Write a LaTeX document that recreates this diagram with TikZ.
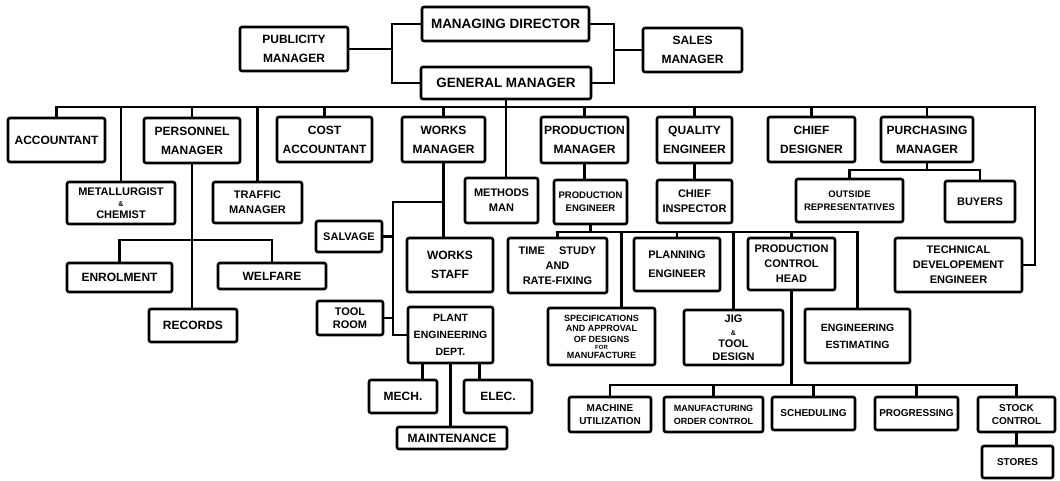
\documentclass[tikz,border=0pt]{standalone}
\usepackage{fontspec}
\setmainfont{Liberation Sans}
\usetikzlibrary{positioning,calc}
\newcommand{\orgtop}{\fontsize{13.5}{16}\selectfont}
\newcommand{\orghead}{\fontsize{12}{19}\selectfont}
\newcommand{\orgmid}{\fontsize{11}{15}\selectfont}
\newcommand{\orgsmall}{\fontsize{9.5}{13}\selectfont}
\newcommand{\orgamp}{{\fontsize{7}{7}\selectfont\&}}
\tikzstyle{unit} = [rectangle, rounded corners=2pt, draw=black, line width=2.6pt, align=center, inner sep=1pt, font=\bfseries\orgmid]
\tikzstyle{board} = [unit, font=\bfseries\orgtop]
\tikzstyle{head} = [unit, font=\bfseries\orghead]
\tikzstyle{minor} = [unit, font=\bfseries\orgsmall]
\tikzstyle{link} = [line width=2.3pt]

\begin{document}
\begin{tikzpicture}[x=1pt, y=-1pt]
        \useasboundingbox (0,0) rectangle (1060,480);
        % board level
        \node (managing-director) [board, minimum width=167, minimum height=34] at (505.5,24) {MANAGING DIRECTOR};
        \node (general-manager) [board, minimum width=170, minimum height=32] at (506,83) {GENERAL MANAGER};
        \node (publicity-manager) [head, minimum width=108, minimum height=44] at (294,49) {PUBLICITY\\MANAGER};
        \node (sales-manager) [head, minimum width=99, minimum height=44] at (692.5,50) {SALES\\MANAGER};
        % heads under the general manager
        \node (accountant) [head, minimum width=97, minimum height=44] at (56.5,140) {ACCOUNTANT};
        \node (personnel-manager) [head, minimum width=96, minimum height=45] at (192,140.5) {PERSONNEL\\MANAGER};
        \node (cost-accountant) [head, minimum width=95, minimum height=45] at (324.5,139.5) {COST\\ACCOUNTANT};
        \node (works-manager) [head, minimum width=83, minimum height=45] at (443.5,139.5) {WORKS\\MANAGER};
        \node (production-manager) [head, minimum width=87, minimum height=46] at (584.5,140) {PRODUCTION\\MANAGER};
        \node (quality-engineer) [head, minimum width=75, minimum height=46] at (694.5,140) {QUALITY\\ENGINEER};
        \node (chief-designer) [head, minimum width=87, minimum height=45] at (811.5,139.5) {CHIEF\\DESIGNER};
        \node (purchasing-manager) [head, minimum width=92, minimum height=45] at (927,139.5) {PURCHASING\\MANAGER};
        \node (metallurgist) [unit, minimum width=108, minimum height=42, font=\bfseries\fontsize{11}{11.5}\selectfont] at (121,203) {METALLURGIST\\\orgamp\\CHEMIST};
        \node (traffic-manager) [unit, minimum width=89, minimum height=41] at (257.5,202.5) {TRAFFIC\\MANAGER};
        \node (methods-man) [unit, minimum width=73, minimum height=45] at (501.5,200.5) {METHODS\\MAN};
        \node (production-engineer) [minor, minimum width=73, minimum height=44] at (590.5,202) {PRODUCTION\\ENGINEER};
        \node (chief-inspector) [unit, minimum width=75, minimum height=43] at (694.5,201.5) {CHIEF\\INSPECTOR};
        \node (outside-representatives) [minor, minimum width=107, minimum height=43] at (849.5,200.5) {OUTSIDE\\REPRESENTATIVES};
        \node (buyers) [unit, minimum width=70, minimum height=41] at (980,201.5) {BUYERS};
        \node (technical-development) [unit, minimum width=127, minimum height=54] at (958.5,265) {TECHNICAL\\DEVELOPEMENT\\ENGINEER};
        % personnel
        \node (enrolment) [head, minimum width=105, minimum height=29] at (119.5,277.5) {ENROLMENT};
        \node (welfare) [head, minimum width=108, minimum height=26] at (272,276) {WELFARE};
        \node (records) [head, minimum width=88, minimum height=33] at (193,325.5) {RECORDS};
        % works
        \node (salvage) [unit, minimum width=66, minimum height=31] at (349,236.5) {SALVAGE};
        \node (tool-room) [unit, minimum width=66, minimum height=34, font=\bfseries\fontsize{11}{13}\selectfont] at (350,318) {TOOL\\ROOM};
        \node (works-staff) [head, minimum width=86, minimum height=54] at (450,265) {WORKS\\STAFF};
        \node (plant-engineering) [unit, minimum width=85, minimum height=56, font=\bfseries\fontsize{10.5}{17}\selectfont] at (450.5,335) {PLANT\\ENGINEERING\\DEPT.};
        \node (mech) [head, minimum width=68, minimum height=33] at (403,396.5) {MECH.};
        \node (elec) [head, minimum width=68, minimum height=33] at (498,396.5) {ELEC.};
        \node (maintenance) [head, minimum width=110, minimum height=22] at (452,438) {MAINTENANCE};
        % production
        \node (time-study) [unit, minimum width=99, minimum height=55] at (557.5,265.5) {TIME \quad STUDY\\AND\\RATE-FIXING};
        \node (planning-engineer) [unit, minimum width=86, minimum height=53, font=\bfseries\fontsize{11}{19}\selectfont] at (677,264.5) {PLANNING\\ENGINEER};
        \node (production-control) [unit, minimum width=87, minimum height=52] at (791.5,264) {PRODUCTION\\CONTROL\\HEAD};
        \node (specifications) [unit, minimum width=107, minimum height=57, font=\bfseries\fontsize{9}{10.5}\selectfont] at (601.5,336.5) {SPECIFICATIONS\\AND APPROVAL\\OF DESIGNS\\[-3pt]{\fontsize{6}{6}\selectfont FOR}\\[-2pt]MANUFACTURE};
        \node (jig-tool) [unit, minimum width=99, minimum height=55, font=\bfseries\fontsize{11}{12.5}\selectfont] at (733.5,337.5) {JIG\\\orgamp\\TOOL\\DESIGN};
        \node (engineering-estimating) [unit, minimum width=105, minimum height=54, font=\bfseries\fontsize{10.5}{17}\selectfont] at (857.5,336) {ENGINEERING\\ESTIMATING};
        \node (machine-utilization) [unit, minimum width=82, minimum height=35, font=\bfseries\fontsize{10}{13}\selectfont] at (610,414.5) {MACHINE\\UTILIZATION};
        \node (order-control) [unit, minimum width=99, minimum height=35, font=\bfseries\fontsize{9}{13}\selectfont] at (713.5,414.5) {MANUFACTURING\\ORDER CONTROL};
        \node (scheduling) [unit, minimum width=83, minimum height=33, font=\bfseries\fontsize{10}{13}\selectfont] at (813.5,413.5) {SCHEDULING};
        \node (progressing) [unit, minimum width=83, minimum height=33, font=\bfseries\fontsize{10}{13}\selectfont] at (916.5,413.5) {PROGRESSING};
        \node (stock-control) [unit, minimum width=77, minimum height=35, font=\bfseries\fontsize{10}{13}\selectfont] at (1016.5,414.5) {STOCK\\CONTROL};
        \node (stores) [unit, minimum width=71, minimum height=32, font=\bfseries\fontsize{10}{13}\selectfont] at (1017.5,462) {STORES};

        \coordinate (left-joint) at (392,49);
        \coordinate (right-joint) at (614,50);
        \coordinate (main-bus) at (1035,107);
        \coordinate (personnel-joint) at (192,240);
        \coordinate (works-joint) at (393,202);
        \coordinate (engineer-joint) at (590,232);
        \coordinate (purchasing-joint) at (927,170);
        \coordinate (control-joint) at (796,385);
        \coordinate (mech-drop) at ($(plant-engineering.south)+(-28,0)$);
        \coordinate (elec-drop) at ($(plant-engineering.south)+(29,0)$);
        \coordinate (spec-drop) at ($(specifications.north)+(20,0)$);

        % board
        \draw [link] (managing-director.west) -| (left-joint) |- (general-manager.west);
        \draw [link] (publicity-manager.east) -- (left-joint);
        \draw [link] (managing-director.east) -| (right-joint) |- (general-manager.east);
        \draw [link] (sales-manager.west) -- (right-joint);
        % main bus
        \draw [link] (accountant.north) |- (main-bus) |- (technical-development.east);
        \draw [link] (general-manager.south) -- (general-manager.south |- methods-man.north);
        \foreach \n in {metallurgist,personnel-manager,traffic-manager,cost-accountant,works-manager,production-manager,quality-engineer,chief-designer,purchasing-manager}
            \draw [link] (\n.north) -- (\n.north |- main-bus);
        % personnel
        \draw [link] (personnel-manager.south) -- (personnel-manager.south |- records.north);
        \draw [link] (enrolment.north) |- (personnel-joint) -| (welfare.north);
        % works
        \draw [link] (works-manager.south) -- (works-manager.south |- works-staff.north);
        \draw [link] (works-manager.south |- works-joint) -- (works-joint) |- (plant-engineering.west);
        \draw [link] (salvage.east) -- (salvage.east -| works-joint);
        \draw [link] (tool-room.east) -- (tool-room.east -| works-joint);
        \draw [link] (mech-drop) -- (mech-drop |- mech.north);
        \draw [link] (elec-drop) -- (elec-drop |- elec.north);
        \draw [link] (plant-engineering.south) -- (plant-engineering.south |- maintenance.north);
        % production
        \draw [link] (production-manager.south) -- (production-manager.south |- production-engineer.north);
        \draw [link] (production-engineer.south) -- (production-engineer.south |- engineer-joint);
        \draw [link] (time-study.north) |- (engineer-joint) -| (engineering-estimating.north);
        \draw [link] (spec-drop) -- (spec-drop |- engineer-joint);
        \foreach \n in {planning-engineer,jig-tool,production-control}
            \draw [link] (\n.north) -- (\n.north |- engineer-joint);
        \draw [link] (production-control.south) -- (production-control.south |- control-joint);
        \draw [link] (machine-utilization.north) |- (control-joint) -| (stock-control.north);
        \foreach \n in {order-control,scheduling,progressing}
            \draw [link] (\n.north) -- (\n.north |- control-joint);
        \draw [link] (stock-control.south) -- (stock-control.south |- stores.north);
        % quality and purchasing
        \draw [link] (quality-engineer.south) -- (quality-engineer.south |- chief-inspector.north);
        \draw [link] (purchasing-manager.south) -- (purchasing-joint);
        \draw [link] (outside-representatives.north) |- (purchasing-joint) -| (buyers.north);
    \end{tikzpicture}
\end{document}
